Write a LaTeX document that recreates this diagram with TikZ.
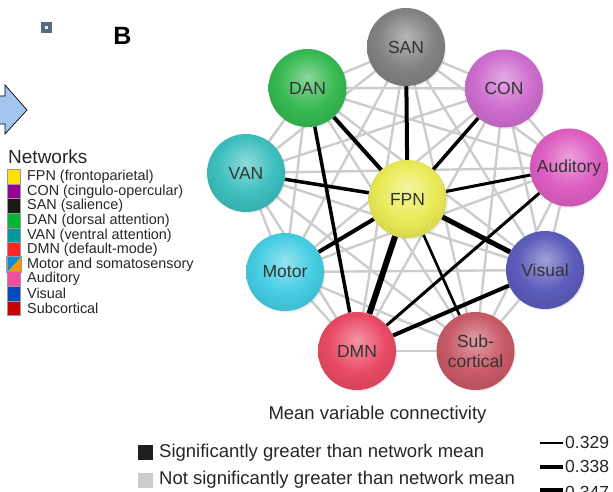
\documentclass[tikz,border=0pt]{standalone}
\usepackage{fontspec}
\setmainfont{Liberation Sans}
\usepackage{tikz}
\usetikzlibrary{backgrounds,shadows,calc}

\definecolor{sancol}{HTML}{7C7C7C}
\definecolor{dancol}{HTML}{2DB64A}
\definecolor{concol}{HTML}{CC66CC}
\definecolor{audcol}{HTML}{DC56BE}
\definecolor{vancol}{HTML}{34BCBC}
\definecolor{fpncol}{HTML}{EAEA50}
\definecolor{motcol}{HTML}{3CCBE2}
\definecolor{viscol}{HTML}{5454B8}
\definecolor{dmncol}{HTML}{E8425E}
\definecolor{subcol}{HTML}{C65260}
\definecolor{arrowblue}{HTML}{A3C6EE}
\definecolor{markcol}{HTML}{566A7C}
\colorlet{netin}{white}
\colorlet{netmid}{gray}
\colorlet{netout}{black}

\pgfdeclareradialshading[netin,netmid,netout]{netball}{\pgfpoint{0bp}{7bp}}{color(0bp)=(netin); color(18bp)=(netmid); color(50bp)=(netout)}

\tikzstyle{weak} = [draw=black!20, line width=2.4pt]
\tikzstyle{strong} = [draw=black, line width=3.5pt]
\tikzstyle{swatch} = [rectangle, draw=black!40, line width=1.1pt, minimum width=13pt, minimum height=14.6pt, inner sep=0pt]
\tikzstyle{leg} = [anchor=west, inner sep=0pt, font=\fontsize{14.4}{15}\selectfont, text=black!85]
\tikzstyle{key} = [anchor=west, inner sep=0pt, font=\fontsize{18.5}{20}\selectfont, text=black!85]
\tikzset{net/.style={circle, minimum size=78pt, inner sep=0pt,
    /utils/exec={\colorlet{netin}{#1!55!white}\colorlet{netmid}{#1!95!white}\colorlet{netout}{#1!72!black}},
    shading=netball, text=black!80,
    font=\fontsize{17.5}{21}\selectfont, align=center,
    drop shadow={opacity=0.15, shadow xshift=1.5pt, shadow yshift=-1.5pt}}}

\begin{document}
\begin{tikzpicture}[x=1pt, y=-1pt]

        \useasboundingbox (0,0) rectangle (613,492);

        %% marker, arrow and panel letter

        \node (mark) [rectangle, fill=markcol, minimum size=11pt, inner sep=0pt] at (46.5,27.5) {};
        \node (markdot) [rectangle, fill=cyan!15!white, minimum size=3pt, inner sep=0pt] at (mark) {};
        \draw[fill=arrowblue, line width=0.7pt, line join=miter] (-12,96) -- (5,96) -- (5,85) -- (27,110) -- (5,134) -- (5,124) -- (-12,124) -- cycle;
        \node (letter) [font=\fontsize{25}{25}\selectfont\bfseries] at (122.5,36) {B};

        %% networks

        \node (SAN) [net=sancol] at (406,47) {SAN};
        \node (DAN) [net=dancol] at (307.5,88) {DAN};
        \node (CON) [net=concol] at (504,88.5) {CON};
        \node (VAN) [net=vancol] at (246,173) {VAN};
        \node (AUD) [net=audcol] at (569,167.5) {Auditory};
        \node (FPN) [net=fpncol] at (407.5,199) {FPN};
        \node (MOT) [net=motcol] at (285,272) {Motor};
        \node (VIS) [net=viscol] at (545,270) {Visual};
        \node (DMN) [net=dmncol] at (357,351) {DMN};
        \node (SUB) [net=subcol] at (475.5,351) {Sub-\\[-1pt]cortical};

        \begin{pgfonlayer}{background}
            \foreach \a [count=\i] in {SAN,DAN,CON,VAN,AUD,FPN,MOT,VIS,DMN,SUB}
                \foreach \b [count=\j] in {SAN,DAN,CON,VAN,AUD,FPN,MOT,VIS,DMN,SUB}
                    {\ifnum\j>\i \draw[weak] (\a.center) -- (\b.center); \fi}

            \draw[strong, line width=4pt] (FPN) -- (SAN);
            \draw[strong, line width=4pt] (FPN) -- (DAN);
            \draw[strong] (FPN) -- (CON);
            \draw[strong] (FPN) -- (VAN);
            \draw[strong, line width=3pt] (FPN) -- (AUD);
            \draw[strong, line width=4pt] (FPN) -- (MOT);
            \draw[strong, line width=5pt] (FPN) -- (VIS);
            \draw[strong, line width=6pt] (FPN) -- (DMN);
            \draw[strong, line width=2.6pt] (FPN) -- (SUB);
            \draw[strong] (DAN) -- (DMN);
            \draw[strong, line width=3pt] (AUD) -- (DMN);
            \draw[strong, line width=4pt] (VIS) -- (DMN);
        \end{pgfonlayer}

        %% legend of networks

        \node (nettitle) [anchor=west, inner sep=0pt, font=\fontsize{19}{19}\selectfont, text=black!85] at (8,157) {Networks};

        \node (swFPN) [swatch, fill=yellow!92!red] at (14,177) {};
        \node (swCON) [swatch, fill=violet!60!magenta!85!black] at (14,191.6) {};
        \node (swSAN) [swatch, fill=black!90] at (14,206.2) {};
        \node (swDAN) [swatch, fill=green!65!black!80!cyan] at (14,220.8) {};
        \node (swVAN) [swatch, fill=teal!80!cyan] at (14,235.4) {};
        \node (swDMN) [swatch, fill=red!85!white] at (14,250) {};
        \node (swMOT) [swatch] at (14,264.6) {};
        \fill[orange!85!yellow] (swMOT.south west) -- (swMOT.north east) -- (swMOT.south east) -- cycle;
        \fill[cyan!75!blue] (swMOT.south west) -- (swMOT.north east) -- (swMOT.north west) -- cycle;
        \draw[black!40, line width=1.1pt] (swMOT.south west) rectangle (swMOT.north east);
        \node (swAUD) [swatch, fill=magenta!60!pink] at (14,279.2) {};
        \node (swVIS) [swatch, fill=blue!60!cyan!75!black] at (14,293.8) {};
        \node (swSUB) [swatch, fill=red!78!black] at (14,308.4) {};

        \node [leg] at (27,177) {FPN (frontoparietal)};
        \node [leg] at (27,191.6) {CON (cingulo-opercular)};
        \node [leg] at (27,206.2) {SAN (salience)};
        \node [leg] at (27,220.8) {DAN (dorsal attention)};
        \node [leg] at (27,235.4) {VAN (ventral attention)};
        \node [leg] at (27,250) {DMN (default-mode)};
        \node [leg] at (27,264.6) {Motor and somatosensory};
        \node [leg] at (27,279.2) {Auditory};
        \node [leg] at (27,293.8) {Visual};
        \node [leg] at (27,308.4) {Subcortical};

        %% legend of connectivity

        \node (keytitle) [key, anchor=center] at (377.5,415) {Mean variable connectivity};

        \node (sigbox) [rectangle, fill=black!88, minimum size=15pt, inner sep=0pt] at (145,452.5) {};
        \node (siglb) [key] at (159,453) {Significantly greater than network mean};
        \node (nsbox) [rectangle, fill=black!20, minimum size=15pt, inner sep=0pt] at (145,480.5) {};
        \node (nslb) [key] at (159,480) {Not significantly greater than network mean};

        \coordinate (w1a) at (540,443);
        \coordinate (w1b) at (563,443);
        \coordinate (w2a) at (540,467);
        \coordinate (w2b) at (563,467);
        \coordinate (w3a) at (540,490);
        \coordinate (w3b) at (563,490);
        \draw[line width=1.6pt] (w1a) -- (w1b);
        \draw[line width=3.2pt] (w2a) -- (w2b);
        \draw[line width=4.8pt] (w3a) -- (w3b);
        \node [key, font=\fontsize{17.5}{18}\selectfont] at ($(w1b)+(2,-1)$) {0.329};
        \node [key, font=\fontsize{17.5}{18}\selectfont] at ($(w2b)+(2,-1)$) {0.338};
        \node [key, font=\fontsize{17.5}{18}\selectfont] at ($(w3b)+(2,2)$) {0.347};

    \end{tikzpicture}
\end{document}
